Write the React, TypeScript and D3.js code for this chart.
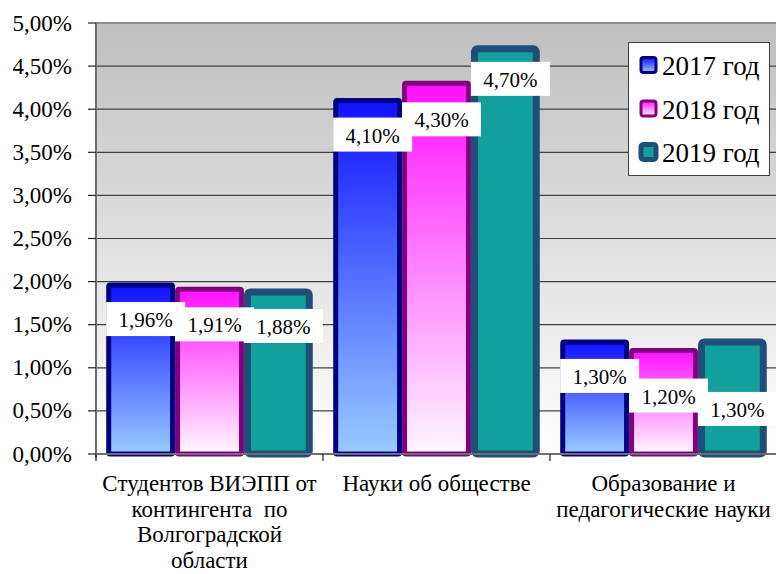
import * as d3 from 'd3';

// chart data
const categories = [
  'Студентов ВИЭПП от\nконтингента  по\nВолгоградской\nобласти',
  'Науки об обществе',
  'Образование и\nпедагогические науки',
];
const seriesNames = ['2017 год', '2018 год', '2019 год'];
const values2017 = [1.96, 4.1, 1.3];
const values2018 = [1.91, 4.3, 1.2];
const values2019 = [1.88, 4.7, 1.3];
const yMax = 5;

// label nudges (px) per category / series, as placed in the original
const labelNudge = [
  [0, 1, 0],
  [0, 2, -4],
  [0, 11, 33],
];

const W = 776;
const H = 574;
const FONT = 'Liberation Serif, Times New Roman, serif';

const styles = [
  { stroke: '#000080', sw: 5, grad: 'gBlue', top: '#1010ff', bottom: '#99ccff' },
  { stroke: '#800080', sw: 5, grad: 'gPink', top: '#ff10ff', bottom: '#fff8ff' },
  { stroke: '#1f4e78', sw: 7, grad: null, fill: '#11a09b' },
];

const fmt = (v: number) => d3.format('.2f')(v).replace('.', ',') + '%';

export default function App() {
  const plotLeft = 96;
  const plotRight = 777;
  const plotTop = 23;
  const plotBottom = 454;

  const seriesValues = [values2017, values2018, values2019];

  const x0 = d3
    .scaleBand<string>()
    .domain(categories)
    .range([plotLeft, plotRight])
    .paddingInner(0.09)
    .paddingOuter(0.045);
  const x1 = d3.scaleBand<string>().domain(seriesNames).range([0, x0.bandwidth()]);
  const y = d3.scaleLinear().domain([0, yMax]).range([plotBottom, plotTop]);
  const ticks = y.ticks(10);

  const step = x0.step();
  const catEdges = categories.map((_, i) => plotLeft + i * step);

  return (
    <svg
      width={W}
      height={H}
      style={{ display: 'block', position: 'absolute', left: 0, top: 0, fontFamily: FONT }}
    >
      <defs>
        <linearGradient id="plotBg" x1="0" y1="0" x2="0" y2="1">
          <stop offset="0" stopColor="#bfbfbf" />
          <stop offset="1" stopColor="#ffffff" />
        </linearGradient>
        {styles.filter(s => s.grad).map(s => (
          <linearGradient key={s.grad!} id={s.grad!} x1="0" y1="0" x2="0" y2="1">
            <stop offset="0" stopColor={s.top} />
            <stop offset="1" stopColor={s.bottom} />
          </linearGradient>
        ))}
      </defs>

      <rect x={0} y={0} width={W} height={H} fill="#ffffff" />

      {/* plot area */}
      <rect x={plotLeft} y={plotTop} width={plotRight - plotLeft} height={plotBottom - plotTop} fill="url(#plotBg)" />
      <line x1={plotLeft} x2={plotRight} y1={plotTop} y2={plotTop} stroke="#8c8c8c" strokeWidth={2} />

      {/* gridlines */}
      {ticks.filter(t => t > 0 && t < yMax).map(t => (
        <line key={t} x1={plotLeft} x2={plotRight} y1={y(t)} y2={y(t)} stroke="#404040" strokeWidth={1.2} />
      ))}

      {/* y axis */}
      <line x1={plotLeft} x2={plotLeft} y1={plotTop} y2={plotBottom + 4} stroke="#6e6e6e" strokeWidth={2} />
      {ticks.map(t => (
        <g key={t}>
          <line x1={plotLeft - 8} x2={plotLeft} y1={y(t)} y2={y(t)} stroke="#202020" strokeWidth={1.2} />
          <text x={72} y={y(t)} textAnchor="end" dominantBaseline="central" fontSize={23} fill="#000">
            {fmt(t)}
          </text>
        </g>
      ))}

      {/* bars */}
      {categories.map((c, ci) => (
        <g key={c}>
          {seriesNames.map((s, si) => {
            const st = styles[si];
            const v = seriesValues[si][ci];
            const bx = x0(c)! + x1(s)!;
            const bw = x1.bandwidth();
            const top = y(v);
            return (
              <rect
                key={s}
                x={bx + st.sw / 2}
                y={top}
                width={bw - st.sw}
                height={plotBottom - top}
                rx={st.sw === 7 ? 3 : 1.5}
                fill={st.grad ? `url(#${st.grad})` : st.fill}
                stroke={st.stroke}
                strokeWidth={st.sw}
              />
            );
          })}
        </g>
      ))}

      {/* x axis */}
      <line x1={plotLeft} x2={plotRight} y1={plotBottom} y2={plotBottom} stroke="#6e6e6e" strokeWidth={2} />
      {catEdges.map(e => (
        <line key={e} x1={e} x2={e} y1={plotBottom} y2={plotBottom + 7} stroke="#202020" strokeWidth={1.2} />
      ))}

      {/* data labels */}
      {categories.map((c, ci) => (
        <g key={'l' + c}>
          {seriesNames.map((s, si) => {
            const v = seriesValues[si][ci];
            const cx = x0(c)! + x1(s)! + x1.bandwidth() / 2 + 5;
            const cy = y(v) + 34 + labelNudge[ci][si];
            return (
              <g key={s}>
                <rect x={cx - 39.5} y={cy - 17} width={79} height={34} fill="#ffffff" />
                <text x={cx} y={cy + 1} textAnchor="middle" dominantBaseline="central" fontSize={21} fill="#000">
                  {fmt(v)}
                </text>
              </g>
            );
          })}
        </g>
      ))}

      {/* category labels */}
      {categories.map(c => (
        <text key={'c' + c} textAnchor="middle" fontSize={23} fill="#000" style={{ whiteSpace: 'pre' }}>
          {c.split('\n').map((line, li) => (
            <tspan key={li} x={x0(c)! + x0.bandwidth() / 2} y={491 + li * 25.5}>
              {line}
            </tspan>
          ))}
        </text>
      ))}

      {/* legend */}
      <g>
        <rect x={628.5} y={42.5} width={141} height={133} fill="#ffffff" stroke="#404040" strokeWidth={1} />
        {seriesNames.map((s, i) => {
          const st = styles[i];
          const ry = 65 + i * 43.5;
          return (
            <g key={s}>
              <rect
                x={641}
                y={ry - 7.5}
                width={15}
                height={15}
                rx={2.5}
                fill={st.grad ? `url(#${st.grad})` : st.fill}
                stroke={st.stroke}
                strokeWidth={i === 2 ? 5 : 3}
              />
              <text x={662} y={ry + 1} dominantBaseline="central" fontSize={27} fill="#000">
                {s}
              </text>
            </g>
          );
        })}
      </g>
    </svg>
  );
}
